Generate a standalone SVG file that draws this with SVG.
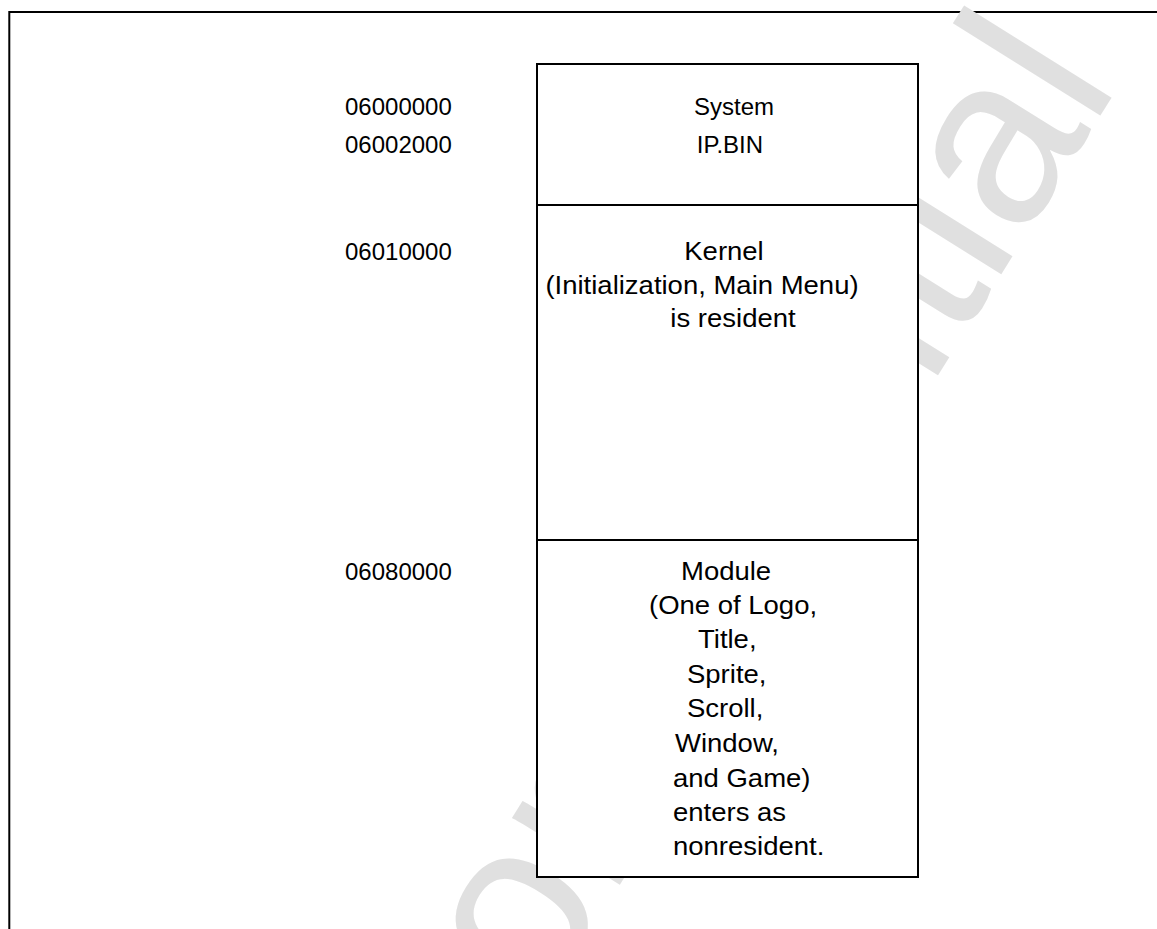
<svg xmlns="http://www.w3.org/2000/svg" width="1157" height="929" viewBox="0 0 1157 929">
<style>
.t{font-family:"Liberation Sans",Arial,sans-serif;font-size:24px;fill:#000}
.s{font-family:"Liberation Sans",Arial,sans-serif;font-size:25px;fill:#000}
.c{text-anchor:middle}
.box{fill:#fff;stroke:#000;stroke-width:2}
.frame{fill:none;stroke:#000;stroke-width:2}
.wm{font-family:"Liberation Sans",Arial,sans-serif;font-size:240px;fill:#e0e0e0;text-anchor:end}
</style>
<rect width="1157" height="929" fill="#fff"/>
<path class="frame" d="M9.3,929 V12 H1157"/>
<text class="wm" transform="translate(1120,84) rotate(-58)">Confidential</text>
<g id="system">
<rect class="box" x="537" y="64" width="381" height="141"/>
<text class="t c" x="734" y="115">System</text>
<text class="t c" x="730" y="153">IP.BIN</text>
</g>
<g id="kernel">
<rect class="box" x="537" y="205" width="381" height="335"/>
<text class="s c" transform="translate(724,260) scale(1.1,1)">Kernel</text>
<text class="s c" transform="translate(702,294) scale(1.1,1)">(Initialization, Main Menu)</text>
<text class="s c" transform="translate(733,327) scale(1.1,1)">is resident</text>
</g>
<g id="module">
<rect class="box" x="537" y="540" width="381" height="337"/>
<text class="s" transform="translate(681,580) scale(1.1,1)">Module</text>
<text class="s" transform="translate(649,614) scale(1.1,1)">(One of Logo,</text>
<text class="s" transform="translate(698,648) scale(1.1,1)">Title,</text>
<text class="s" transform="translate(687,683) scale(1.1,1)">Sprite,</text>
<text class="s" transform="translate(687,717) scale(1.1,1)">Scroll,</text>
<text class="s" transform="translate(675,752) scale(1.1,1)">Window,</text>
<text class="s" transform="translate(673,787) scale(1.1,1)">and Game)</text>
<text class="s" transform="translate(673,821) scale(1.1,1)">enters as</text>
<text class="s" transform="translate(673,855) scale(1.1,1)">nonresident.</text>
</g>
<g id="addresses">
<text class="t" x="345" y="115">06000000</text>
<text class="t" x="345" y="153">06002000</text>
<text class="t" x="345" y="260">06010000</text>
<text class="t" x="345" y="580">06080000</text>
</g>
<g id="connectors"/>
</svg>
